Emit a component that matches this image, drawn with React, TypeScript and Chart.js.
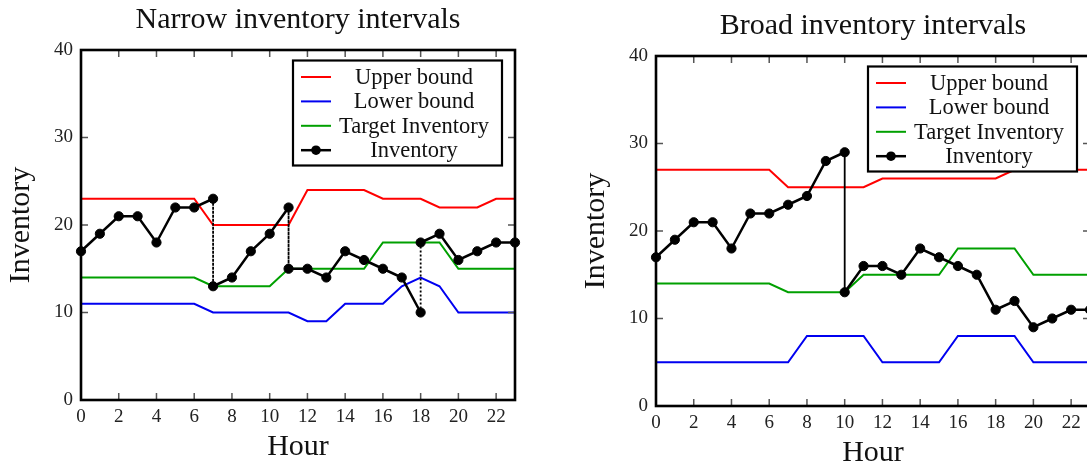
import React, { useEffect, useRef } from 'react';
import { Chart, registerables } from 'chart.js';

Chart.register(...registerables);

const FONT = "'Liberation Serif', 'Times New Roman', serif";

// Hours (x axis)
const hours = [0, 1, 2, 3, 4, 5, 6, 7, 8, 9, 10, 11, 12, 13, 14, 15, 16, 17, 18, 19, 20, 21, 22, 23];

// Narrow inventory intervals
const narrowUpper = [23, 23, 23, 23, 23, 23, 23, 20, 20, 20, 20, 20, 24, 24, 24, 24, 23, 23, 23, 22, 22, 22, 23, 23];
const narrowLower = [11, 11, 11, 11, 11, 11, 11, 10, 10, 10, 10, 10, 9, 9, 11, 11, 11, 13, 14, 13, 10, 10, 10, 10];
const narrowTarget = [14, 14, 14, 14, 14, 14, 14, 13, 13, 13, 13, 15, 15, 15, 15, 15, 18, 18, 18, 18, 15, 15, 15, 15];
const narrowInvHours = [0, 1, 2, 3, 4, 5, 6, 7, 7, 8, 9, 10, 11, 11, 12, 13, 14, 15, 16, 17, 18, 18, 19, 20, 21, 22, 23];
const narrowInvValues = [17, 19, 21, 21, 18, 22, 22, 23, 13, 14, 17, 19, 22, 15, 15, 14, 17, 16, 15, 14, 10, 18, 19, 16, 17, 18, 18];

// Broad inventory intervals
const broadUpper = [27, 27, 27, 27, 27, 27, 27, 25, 25, 25, 25, 25, 26, 26, 26, 26, 26, 26, 26, 27, 27, 27, 27, 27];
const broadLower = [5, 5, 5, 5, 5, 5, 5, 5, 8, 8, 8, 8, 5, 5, 5, 5, 8, 8, 8, 8, 5, 5, 5, 5];
const broadTarget = [14, 14, 14, 14, 14, 14, 14, 13, 13, 13, 13, 15, 15, 15, 15, 15, 18, 18, 18, 18, 15, 15, 15, 15];
const broadInvHours = [0, 1, 2, 3, 4, 5, 6, 7, 8, 9, 10, 10, 11, 12, 13, 14, 15, 16, 17, 18, 19, 20, 21, 22, 23];
const broadInvValues = [17, 19, 21, 21, 18, 22, 22, 23, 24, 28, 29, 13, 16, 16, 15, 18, 17, 16, 15, 11, 12, 9, 10, 11, 11];

const seriesLabels = ['Upper bound', 'Lower bound', 'Target Inventory', 'Inventory'];
const seriesColors = ['#ff0000', '#0000f0', '#00a000', '#000000'];
const yTicks = [0, 10, 20, 30, 40];
const xTicks = [0, 2, 4, 6, 8, 10, 12, 14, 16, 18, 20, 22];

const frameTicksPlugin = {
  id: 'frameTicks',
  afterDatasetsDraw(chart: any) {
    const { ctx, chartArea } = chart;
    const xs = chart.scales.x;
    const ys = chart.scales.y;
    ctx.save();
    ctx.strokeStyle = '#555';
    ctx.lineWidth = 1.5;
    ctx.beginPath();
    const tl = 7;
    xs.ticks.forEach((t: any) => {
      const px = xs.getPixelForValue(t.value);
      ctx.moveTo(px, chartArea.bottom);
      ctx.lineTo(px, chartArea.bottom - tl);
      ctx.moveTo(px, chartArea.top);
      ctx.lineTo(px, chartArea.top + tl);
    });
    ys.ticks.forEach((t: any) => {
      const py = ys.getPixelForValue(t.value);
      ctx.moveTo(chartArea.left, py);
      ctx.lineTo(chartArea.left + tl, py);
      ctx.moveTo(chartArea.right, py);
      ctx.lineTo(chartArea.right - tl, py);
    });
    ctx.stroke();
    ctx.strokeStyle = '#000';
    ctx.lineWidth = 2.6;
    ctx.strokeRect(chartArea.left, chartArea.top, chartArea.right - chartArea.left, chartArea.bottom - chartArea.top);
    ctx.restore();
  },
};

const boxLegendPlugin = {
  id: 'boxLegend',
  afterDraw(chart: any, _args: any, opts: any) {
    const { ctx, chartArea } = chart;
    const w = 209;
    const h = 105;
    const x0 = chartArea.right - (opts.rightGap ?? 13) - w;
    const y0 = chartArea.top + 10.5;
    ctx.save();
    ctx.fillStyle = '#fff';
    ctx.fillRect(x0, y0, w, h);
    ctx.strokeStyle = '#000';
    ctx.lineWidth = 2.2;
    ctx.strokeRect(x0, y0, w, h);
    chart.data.datasets.forEach((ds: any, i: number) => {
      const cy = y0 + 16.5 + i * 24.4;
      ctx.strokeStyle = ds.borderColor;
      ctx.lineWidth = ds.borderWidth;
      ctx.beginPath();
      ctx.moveTo(x0 + 8, cy);
      ctx.lineTo(x0 + 38, cy);
      ctx.stroke();
      if (ds.pointRadius > 0) {
        ctx.fillStyle = ds.borderColor;
        ctx.beginPath();
        ctx.arc(x0 + 23, cy, 4.8, 0, Math.PI * 2);
        ctx.fill();
      }
      ctx.fillStyle = '#111';
      ctx.font = `22.5px ${FONT}`;
      ctx.textAlign = 'center';
      ctx.textBaseline = 'middle';
      ctx.fillText(ds.label, x0 + 121, cy + 1);
    });
    ctx.restore();
  },
};

type PanelProps = {
  title: string;
  upper: number[];
  lower: number[];
  target: number[];
  invHours: number[];
  invValues: number[];
  legendGap: number;
  left: number;
  top: number;
};

function Panel(props: PanelProps) {
  const ref = useRef<HTMLCanvasElement | null>(null);
  useEffect(() => {
    if (!ref.current) return;
    const toXY = (vals: number[]) => vals.map((v, i) => ({ x: hours[i], y: v }));
    const inv = props.invValues.map((v, i) => ({ x: props.invHours[i], y: v }));
    const lineSeries = (idx: number, vals: number[], order: number) => ({
      label: seriesLabels[idx],
      data: toXY(vals),
      borderColor: seriesColors[idx],
      backgroundColor: seriesColors[idx],
      borderWidth: 2,
      pointRadius: 0,
      tension: 0,
      order,
    });
    const chart = new Chart(ref.current, {
      type: 'line',
      data: {
        datasets: [
          lineSeries(0, props.upper, 2),
          lineSeries(1, props.lower, 3),
          lineSeries(2, props.target, 1),
          {
            label: seriesLabels[3],
            data: inv,
            borderColor: seriesColors[3],
            backgroundColor: seriesColors[3],
            borderWidth: 2.5,
            pointRadius: 4.6,
            pointBorderWidth: 1,
            pointBackgroundColor: '#000',
            pointBorderColor: '#000',
            tension: 0,
            order: 0,
            clip: false,
            segment: {
              borderDash: (c: any) => (c.p0.parsed.x === c.p1.parsed.x ? [2, 2] : undefined),
              borderWidth: (c: any) => (c.p0.parsed.x === c.p1.parsed.x ? 1.8 : undefined),
            },
          } as any,
        ],
      },
      options: {
        responsive: false,
        animation: false,
        events: [],
        layout: { padding: { left: 0, right: 20, top: 0, bottom: 0 }, autoPadding: false },
        plugins: {
          legend: { display: false },
          tooltip: { enabled: false },
          title: {
            display: true,
            fullSize: false,
            text: props.title,
            color: '#111',
            font: { family: FONT, size: 30, weight: 'normal' },
            padding: { top: 2, bottom: 12 },
          },
          boxLegend: { rightGap: props.legendGap },
        } as any,
        scales: {
          x: {
            type: 'linear',
            min: 0,
            max: 23,
            afterFit: (s: any) => {
              s.height = 71;
            },
            afterBuildTicks: (s: any) => {
              s.ticks = xTicks.map((v) => ({ value: v }));
            },
            grid: { display: false, drawTicks: false },
            border: { display: false },
            ticks: {
              color: '#222',
              padding: 6,
              maxRotation: 0,
              autoSkip: false,
              font: { family: FONT, size: 19 },
            },
            title: {
              display: true,
              text: 'Hour',
              color: '#111',
              font: { family: FONT, size: 30 },
              padding: { top: 0, bottom: 6 },
            },
          },
          y: {
            type: 'linear',
            min: 0,
            max: 40,
            afterFit: (s: any) => {
              s.width = 81;
            },
            afterBuildTicks: (s: any) => {
              s.ticks = yTicks.map((v) => ({ value: v }));
            },
            grid: { display: false, drawTicks: false },
            border: { display: false },
            ticks: {
              color: '#222',
              padding: 8,
              font: { family: FONT, size: 19 },
            },
            title: {
              display: true,
              text: 'Inventory',
              color: '#111',
              font: { family: FONT, size: 30 },
              padding: { top: 3, bottom: 0 },
            },
          },
        },
      } as any,
      plugins: [frameTicksPlugin, boxLegendPlugin],
    });
    return () => chart.destroy();
  }, []);
  return (
    <canvas
      ref={ref}
      width={535}
      height={471}
      style={{ position: 'absolute', left: props.left, top: props.top, width: 535, height: 471, display: 'block' }}
    />
  );
}

export default function App() {
  return (
    <div
      style={{
        position: 'absolute',
        left: 0,
        top: 0,
        width: 1087,
        height: 471,
        overflow: 'hidden',
        background: '#fff',
      }}
    >
      <Panel
        title="Narrow inventory intervals"
        upper={narrowUpper}
        lower={narrowLower}
        target={narrowTarget}
        invHours={narrowInvHours}
        invValues={narrowInvValues}
        legendGap={13}
        left={0}
        top={0}
      />
      <Panel
        title="Broad inventory intervals"
        upper={broadUpper}
        lower={broadLower}
        target={broadTarget}
        invHours={broadInvHours}
        invValues={broadInvValues}
        legendGap={13}
        left={575}
        top={6}
      />
    </div>
  );
}
